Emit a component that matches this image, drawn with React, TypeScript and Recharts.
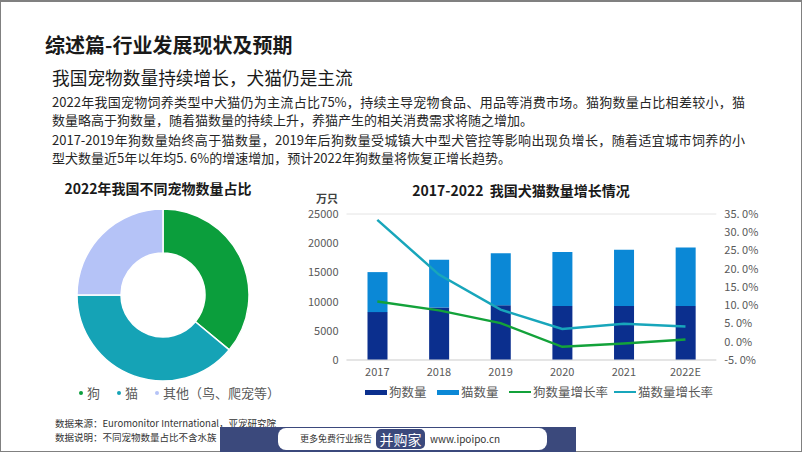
import React from "react";
import {
  Bar,
  CartesianGrid,
  Cell,
  ComposedChart,
  Line,
  Pie,
  PieChart,
  XAxis,
  YAxis,
} from "recharts";

const years = ["2017", "2018", "2019", "2020", "2021", "2022E"];
const dogCount = [8200, 8980, 9380, 9260, 9260, 9260];
const catCount = [6850, 8180, 8920, 9220, 9610, 10010];
const dogGrowth = [11.0, 8.6, 5.1, -1.4, -0.5, 0.6];
const catGrowth = [33.4, 18.4, 8.8, 3.5, 4.9, 4.2];

const leftTicks = [0, 5000, 10000, 15000, 20000, 25000];
const rightTicks = [-5, 0, 5, 10, 15, 20, 25, 30, 35];

const petNames = ["狗", "猫", "其他（鸟、爬宠等）"];
const petShares = [36, 39, 25];
const petColors = ["#0b9e3c", "#15a3b6", "#b5c3f7"];

const DOG_BAR = "#0b2f8e";
const CAT_BAR = "#0b88d6";
const DOG_LINE = "#13a23a";
const CAT_LINE = "#18a6bb";

const FONT = '"Noto Sans CJK SC", "Noto Sans", sans-serif';

// full lines are justified to the same width, short lines are left as they are
const paragraph = [
  { text: "2022年我国宠物饲养类型中犬猫仍为主流占比75%，持续主导宠物食品、用品等消费市场。猫狗数量占比相差较小，猫", full: true },
  { text: "数量略高于狗数量，随着猫数量的持续上升，养猫产生的相关消费需求将随之增加。", full: false },
  { text: "2017-2019年狗数量始终高于猫数量，2019年后狗数量受城镇大中型犬管控等影响出现负增长，随着适宜城市饲养的小", full: true },
  { text: "型犬数量近5年以年均5. 6%的增速增加，预计2022年狗数量将恢复正增长趋势。", full: false },
];
const paragraphY = [93, 111, 131, 149];

const growthData = years.map((y, i) => ({
  year: y,
  dog: dogCount[i],
  cat: catCount[i],
  dogRate: dogGrowth[i],
  catRate: catGrowth[i],
}));

const pieData = petNames.map((name, i) => ({ name, value: petShares[i] }));

const pct = (v: number) => `${v.toFixed(1).replace(".", ". ")}%`;

const tickStyle = { fontSize: 11, fill: "#595959", fontFamily: FONT };

function abs(left: number, top: number, extra: React.CSSProperties = {}): React.CSSProperties {
  return { position: "absolute", left, top, whiteSpace: "nowrap", ...extra };
}

export default function App() {
  return (
    <div
      style={{
        position: "fixed",
        left: 0,
        top: 0,
        width: 802,
        height: 452,
        background: "#fff",
        fontFamily: FONT,
        overflow: "hidden",
      }}
    >
      {/* frame */}
      <div
        style={{
          position: "absolute",
          left: 0,
          top: 0,
          width: 800,
          height: 449,
          borderTop: "2px solid #808080",
          borderLeft: "1px solid #808080",
          borderRight: "1px solid #808080",
          borderBottom: "1px solid #808080",
        }}
      />

      <div style={abs(45, 31, { fontSize: 20, fontWeight: 700, color: "#1a1a1a", lineHeight: "28px" })}>
        综述篇-行业发展现状及预期
      </div>
      <div style={abs(52, 65, { fontSize: 17.7, color: "#1a1a1a", lineHeight: "24px" })}>
        我国宠物数量持续增长，犬猫仍是主流
      </div>
      {paragraph.map((p, i) => (
        <div
          key={i}
          style={abs(52, paragraphY[i], {
            fontSize: 13,
            color: "#262626",
            lineHeight: "18px",
            ...(p.full
              ? { width: 693, textAlign: "justify", textAlignLast: "justify", whiteSpace: "normal" }
              : {}),
          })}
        >
          {p.text}
        </div>
      ))}

      {/* donut */}
      <div style={abs(0, 178, { width: 316, textAlign: "center", fontSize: 14, fontWeight: 700, color: "#1a1a1a", lineHeight: "20px" })}>
        2022年我国不同宠物数量占比
      </div>
      <div style={{ position: "absolute", left: 0, top: 170 }}>
        <PieChart width={300} height={230}>
          <Pie
            data={pieData}
            dataKey="value"
            cx={158}
            cy={120}
            innerRadius={42}
            outerRadius={86}
            startAngle={90}
            endAngle={-270}
            stroke="#fff"
            strokeWidth={1.5}
            isAnimationActive={false}
          >
            {pieData.map((d, i) => (
              <Cell key={d.name} fill={petColors[i]} />
            ))}
          </Pie>
        </PieChart>
      </div>
      {petNames.map((n, i) => {
        const xs = [79, 117, 155];
        return (
          <div key={n} style={abs(xs[i], 384, { fontSize: 13, color: "#595959", lineHeight: "18px", display: "flex", alignItems: "center" })}>
            <span style={{ display: "inline-block", width: 4, height: 4, borderRadius: 2, background: petColors[i], marginRight: 4 }} />
            {n}
          </div>
        );
      })}

      {/* bar + line */}
      <div style={abs(290, 180, { width: 462, textAlign: "center", fontSize: 14, fontWeight: 700, color: "#1a1a1a", lineHeight: "20px" })}>
        2017-2022&nbsp;&nbsp;我国犬猫数量增长情况
      </div>
      <div style={abs(316, 192, { fontSize: 11, fontWeight: 700, color: "#404040", lineHeight: "13px" })}>
        万只
      </div>
      <div style={{ position: "absolute", left: 290, top: 170 }}>
        <ComposedChart
          width={512}
          height={230}
          data={growthData}
          margin={{ top: 44, right: 10, left: 0, bottom: 10 }}
          barSize={20}
        >
          <CartesianGrid stroke="#e4e4e4" vertical={false} />
          <XAxis
            dataKey="year"
            tick={tickStyle}
            tickLine={false}
            axisLine={{ stroke: "#d9d9d9" }}
            height={30}
          />
          <YAxis
            yAxisId="l"
            domain={[0, 25000]}
            ticks={leftTicks}
            tick={tickStyle}
            tickLine={false}
            axisLine={false}
            width={56.5}
          />
          <YAxis
            yAxisId="r"
            orientation="right"
            domain={[-5, 35]}
            ticks={rightTicks}
            tickFormatter={pct}
            tick={tickStyle}
            tickLine={false}
            axisLine={false}
            width={75.7}
          />
          <Bar yAxisId="l" dataKey="dog" stackId="s" fill={DOG_BAR} isAnimationActive={false} />
          <Bar yAxisId="l" dataKey="cat" stackId="s" fill={CAT_BAR} isAnimationActive={false} />
          <Line
            yAxisId="r"
            dataKey="dogRate"
            stroke={DOG_LINE}
            strokeWidth={2.5}
            dot={false}
            isAnimationActive={false}
          />
          <Line
            yAxisId="r"
            dataKey="catRate"
            stroke={CAT_LINE}
            strokeWidth={2.5}
            dot={false}
            isAnimationActive={false}
          />
        </ComposedChart>
      </div>
      {[
        { x: 365, label: "狗数量", color: DOG_BAR, h: 5 },
        { x: 437, label: "猫数量", color: CAT_BAR, h: 5 },
        { x: 509, label: "狗数量增长率", color: DOG_LINE, h: 2.5 },
        { x: 614, label: "猫数量增长率", color: CAT_LINE, h: 2.5 },
      ].map((it) => (
        <div key={it.label} style={abs(it.x, 383, { fontSize: 12.5, color: "#595959", lineHeight: "18px", display: "flex", alignItems: "center" })}>
          <span style={{ display: "inline-block", width: 22, height: it.h, background: it.color, marginRight: 2 }} />
          {it.label}
        </div>
      ))}

      {/* footer */}
      <div style={abs(55, 418, { fontSize: 9.5, color: "#333", lineHeight: "11px" })}>
        数据来源：Euromonitor International，亚宠研究院
      </div>
      <div style={abs(55, 432, { fontSize: 9.5, color: "#333", lineHeight: "11px" })}>
        数据说明：不同宠物数量占比不含水族
      </div>
      <div style={{ position: "absolute", left: 220, top: 427, width: 356, height: 25, background: "#3b497c" }}>
        <div style={{ position: "absolute", left: 58, top: 1, width: 269, height: 22, background: "#fff", borderRadius: 8 }}>
          <div style={abs(22, 4, { fontSize: 9, color: "#333", lineHeight: "14px" })}>更多免费行业报告</div>
          <div style={{ position: "absolute", left: 98, top: 1, width: 49, height: 20, background: "#3b497c", borderRadius: 5, color: "#fff", fontSize: 14, lineHeight: "20px", textAlign: "center" }}>
            并购家
          </div>
          <div style={abs(152, 4, { fontSize: 10, color: "#333", lineHeight: "14px" })}>www.ipoipo.cn</div>
        </div>
      </div>
    </div>
  );
}
